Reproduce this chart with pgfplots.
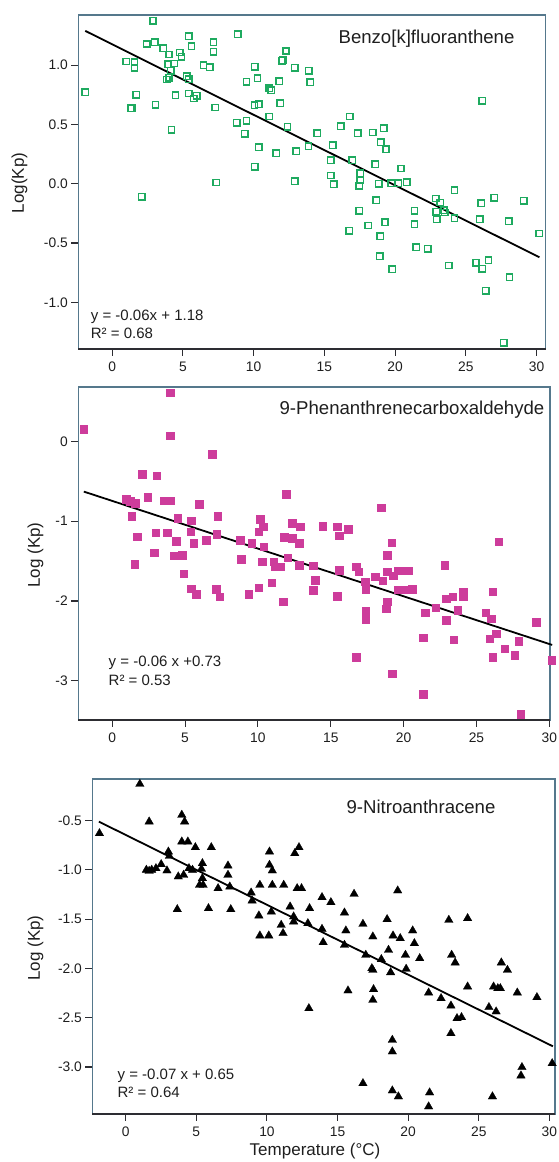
\documentclass[border=0pt]{standalone}
\usepackage{pgfplots}
\pgfplotsset{compat=1.18}
\usepackage{fontspec}
\setmainfont{Liberation Sans}
\definecolor{framec}{RGB}{85,120,140}
\definecolor{tickc}{RGB}{45,45,50}
\definecolor{txtc}{RGB}{30,30,30}
\definecolor{pgreen}{RGB}{30,170,95}
\definecolor{pmag}{RGB}{205,60,155}
\pgfplotsset{
  panel/.style={
    scale only axis, anchor=south west, clip=false,
    axis line style={draw=framec, line width=1.3pt},
    tick align=outside, major tick length=7pt, tick pos=left,
    tick style={draw=tickc, line width=1.1pt},
    tick label style={font=\fontsize{13.8}{16}\selectfont, text=txtc},
    xtick={0,5,...,30}, xticklabels={0,5,10,15,20,25,30},
    xticklabel style={yshift=-2.5pt},
  }
}
\begin{document}
\begin{tikzpicture}[x=1pt,y=1pt]
% ---------------- Panel 1 ----------------
\begin{axis}[panel, at={(78.3pt,813pt)}, width=467.3pt, height=334pt,
  xmin=-2.39, xmax=30.64, ymin=-1.394, ymax=1.424,
  ytick={-1,-0.5,0,0.5,1}, yticklabels={-1.0,-0.5,0.0,0.5,1.0}]
\addplot[only marks, mark=square, mark size=3.2pt, mark options={draw=pgreen, line width=1.45pt}] table {
x y
-1.89 0.774
2.89 1.376
2.44 1.179
3.02 1.193
3.60 1.142
4.02 1.091
4.78 1.108
4.90 1.072
5.41 1.246
5.61 1.162
7.17 1.193
7.17 1.114
8.88 1.263
1.00 1.032
1.58 1.024
1.58 0.979
3.95 1.007
4.40 1.015
4.15 0.954
3.85 0.880
4.02 0.895
5.28 0.909
5.41 0.883
6.46 1.001
6.91 0.982
1.71 0.751
1.31 0.636
1.38 0.636
3.07 0.667
4.48 0.748
5.41 0.762
5.78 0.720
5.98 0.743
7.29 0.644
4.20 0.456
2.09 -0.110
7.37 0.011
10.08 0.987
10.28 0.892
9.50 0.861
10.06 0.664
10.38 0.672
11.11 0.807
11.24 0.790
11.82 0.866
11.89 0.678
11.99 1.038
12.07 1.044
12.29 1.120
12.90 0.979
13.90 0.954
14.00 0.858
11.11 0.568
8.80 0.515
9.50 0.532
9.38 0.422
10.38 0.309
11.59 0.259
10.08 0.143
12.40 0.481
13.00 0.276
13.88 0.318
12.90 0.023
14.51 0.428
15.59 0.326
15.46 0.200
15.46 0.070
15.66 -0.003
16.79 0.568
16.16 0.485
17.35 0.425
16.97 0.197
17.53 0.090
17.55 0.031
17.47 -0.017
18.43 0.433
19.19 0.467
18.99 0.352
19.36 0.293
18.61 0.166
18.86 0.000
19.74 0.006
20.24 0.006
20.82 0.014
20.42 0.129
17.47 -0.228
16.77 -0.397
18.10 -0.352
18.68 -0.138
19.29 -0.323
18.94 -0.442
18.93 -0.613
19.79 -0.720
21.37 -0.228
21.37 -0.340
21.50 -0.534
22.30 -0.549
22.88 -0.124
23.20 -0.158
22.90 -0.236
22.96 -0.298
23.46 -0.222
23.50 -0.242
24.20 -0.056
24.20 -0.290
23.81 -0.689
26.10 -0.163
26.00 -0.298
26.17 0.700
27.00 -0.118
28.04 -0.315
29.09 -0.143
30.20 -0.419
25.72 -0.667
26.17 -0.717
26.60 -0.644
26.40 -0.903
28.09 -0.790
27.68 -1.342
};
\addplot[black, line width=1.8pt] coordinates {(-1.9,1.29) (30.2,-0.62)};
\draw[tickc, line width=1.3pt] (rel axis cs:0,0) -- (rel axis cs:1,0);
\end{axis}
% ---------------- Panel 2 ----------------
\begin{axis}[panel, at={(78.3pt,442pt)}, width=471.7pt, height=333pt,
  xmin=-2.33, xmax=30.05, ymin=-3.49, ymax=0.68,
  ytick={-3,-2,-1,0}, yticklabels={-3,-2,-1,0}]
\addplot[only marks, mark=square*, mark size=3.8pt, mark options={draw=pmag, fill=pmag, line width=0.3pt}] table {
x y
-1.95 0.155
3.97 0.61
3.97 0.071
6.86 -0.163
2.07 -0.41
3.04 -0.43
2.43 -0.70
0.97 -0.727
1.22 -0.748
1.58 -0.777
3.58 -0.744
3.97 -0.744
5.96 -0.786
1.34 -0.936
1.70 -1.195
1.53 -1.538
2.97 -1.145
2.87 -1.392
3.77 -1.145
4.50 -0.965
4.38 -1.249
4.21 -1.433
4.79 -1.425
4.89 -1.655
5.40 -0.995
5.38 -1.132
5.60 -1.279
5.40 -1.843
5.77 -1.914
6.45 -1.237
7.23 -0.936
7.18 -1.162
7.13 -1.855
7.37 -1.947
8.76 -1.237
8.83 -1.475
9.37 -1.914
9.56 -1.279
10.17 -0.978
10.05 -1.132
10.34 -1.07
10.39 -1.32
10.27 -1.509
10.05 -1.835
10.95 -1.768
11.07 -1.509
11.19 -1.571
11.56 -1.571
11.73 -2.01
11.92 -0.664
11.80 -1.204
12.34 -1.028
12.34 -1.216
12.04 -1.458
12.90 -1.07
12.82 -1.279
12.85 -1.55
13.80 -1.559
13.94 -1.738
13.80 -1.864
14.43 -1.061
15.45 -1.07
15.57 -1.183
16.18 -1.103
15.57 -1.613
15.45 -1.939
16.74 -1.571
16.91 -1.634
16.74 -2.70
17.35 -1.759
17.40 -1.855
17.40 -2.127
17.40 -2.232
18.06 -1.697
18.45 -0.832
18.56 -1.747
18.86 -1.425
18.86 -1.634
18.86 -2.01
18.85 -2.06
18.81 -2.094
19.17 -1.27
19.30 -1.68
19.60 -1.62
19.95 -1.62
20.30 -1.62
19.60 -1.86
20.06 -1.86
20.60 -1.85
19.22 -2.909
21.34 -2.457
21.34 -3.168
21.48 -2.148
22.21 -2.081
22.82 -1.55
22.94 -2.24
22.94 -1.968
23.36 -1.947
23.43 -2.482
23.72 -2.115
24.09 -1.885
24.09 -1.939
25.62 -2.148
26.03 -2.219
26.11 -1.885
26.52 -1.258
25.91 -2.47
26.35 -2.407
26.11 -2.70
26.93 -2.595
27.62 -2.679
27.91 -2.499
28.03 -3.418
29.08 -2.261
30.15 -2.741
};
\addplot[black, line width=1.8pt] coordinates {(-1.95,-0.63) (30.2,-2.55)};
\draw[tickc, line width=1.3pt] (rel axis cs:0,0) -- (rel axis cs:1,0);
\end{axis}
% ---------------- Panel 3 ----------------
\begin{axis}[panel, at={(92.4pt,48pt)}, width=462.6pt, height=335pt,
  xmin=-2.36, xmax=30.4, ymin=-3.477, ymax=-0.077,
  ytick={-3,-2.5,-2,-1.5,-1,-0.5}, yticklabels={-3.0,-2.5,-2.0,-1.5,-1.0,-0.5}]
\addplot[only marks, mark=triangle*, mark size=4.9pt, mark options={draw=black, fill=black, line width=0.3pt}] table {
x y
-1.86 -0.629
1.00 -0.128
1.66 -0.51
3.97 -0.442
4.17 -0.51
3.97 -0.713
4.40 -0.713
4.93 -0.771
6.06 -0.771
3.02 -0.815
3.09 -0.859
1.46 -1.00
1.66 -1.011
1.84 -1.00
2.14 -0.984
2.51 -0.943
2.92 -1.007
3.72 -1.068
4.10 -1.051
4.48 -0.984
4.73 -1.00
5.43 -0.933
5.36 -0.99
5.43 -1.085
5.48 -1.153
5.23 -1.153
6.54 -1.187
7.24 -0.957
7.24 -1.051
7.37 -1.17
3.65 -1.40
5.86 -1.39
7.44 -1.40
8.88 -1.231
8.95 -1.312
9.43 -1.464
9.50 -1.153
9.50 -1.667
10.13 -1.667
10.18 -0.815
10.18 -0.95
10.38 -1.007
10.38 -1.153
11.19 -1.153
10.31 -1.424
11.01 -1.559
11.14 -1.643
11.64 -1.373
11.89 -1.474
11.89 -1.525
11.97 -0.832
12.27 -0.771
12.14 -1.187
12.45 -1.187
13.02 -1.39
12.90 -1.542
12.97 -2.405
13.90 -1.278
14.53 -1.329
13.90 -1.60
13.98 -1.735
15.49 -1.434
15.59 -1.616
15.49 -1.762
16.17 -1.244
15.74 -2.225
16.80 -1.549
17.00 -1.863
17.50 -1.677
17.43 -1.999
17.50 -2.016
17.55 -2.212
17.50 -2.32
18.10 -1.907
18.51 -1.501
18.61 -1.813
18.76 -2.04
18.93 -1.667
19.44 -1.694
19.26 -1.21
19.81 -1.863
19.86 -2.005
20.32 -1.616
20.44 -1.745
20.82 -1.897
18.88 -2.726
18.88 -2.844
18.88 -3.24
19.31 -3.30
16.80 -3.166
21.45 -2.246
21.52 -3.26
21.45 -3.402
22.33 -2.303
22.88 -1.508
23.08 -1.863
23.33 -1.941
23.03 -2.378
23.03 -2.658
23.46 -2.506
23.78 -2.496
24.21 -1.491
24.21 -2.185
25.72 -2.394
26.23 -2.438
25.97 -3.30
26.05 -2.185
26.35 -2.202
26.53 -2.202
26.60 -1.941
27.03 -2.016
27.73 -2.246
28.06 -3.003
27.99 -3.088
29.12 -2.293
30.20 -2.963
};
\addplot[black, line width=1.8pt] coordinates {(-1.9,-0.51) (30.25,-2.79)};
\draw[tickc, line width=1.3pt] (rel axis cs:0,0) -- (rel axis cs:1,0);
\end{axis}
% ---------------- Texts ----------------
\begin{scope}[every node/.style={text=txtc, inner sep=0pt}]
\node[font=\fontsize{18.6}{22}\selectfont] at (426.5,1123.7) {Benzo[k]fluoranthene};
\node[font=\fontsize{18.6}{22}\selectfont] at (412,752) {9-Phenanthrenecarboxaldehyde};
\node[font=\fontsize{18.6}{22}\selectfont] at (421,354.7) {9-Nitroanthracene};
\node[font=\fontsize{15}{18}\selectfont, anchor=west] at (90.7,845.3) {y = -0.06x + 1.18};
\node[font=\fontsize{15}{18}\selectfont, anchor=west] at (90.7,828.7) {R² = 0.68};
\node[font=\fontsize{15}{18}\selectfont, anchor=west] at (108.5,498.7) {y = -0.06 x +0.73};
\node[font=\fontsize{15}{18}\selectfont, anchor=west] at (108.5,482) {R² = 0.53};
\node[font=\fontsize{15}{18}\selectfont, anchor=west] at (117.4,86) {y = -0.07 x + 0.65};
\node[font=\fontsize{15}{18}\selectfont, anchor=west] at (117.4,69.7) {R² = 0.64};
\node[font=\fontsize{17}{20}\selectfont, rotate=90] at (19.6,979) {Log(Kp)};
\node[font=\fontsize{17}{20}\selectfont, rotate=90] at (35.6,607) {Log (Kp)};
\node[font=\fontsize{17}{20}\selectfont, rotate=90] at (35.6,214) {Log (Kp)};
\node[font=\fontsize{17}{20}\selectfont] at (315,11) {Temperature (°C)};
\end{scope}
\pgfresetboundingbox
\path[use as bounding box] (0,0) rectangle (558,1162);
\end{tikzpicture}
\end{document}
